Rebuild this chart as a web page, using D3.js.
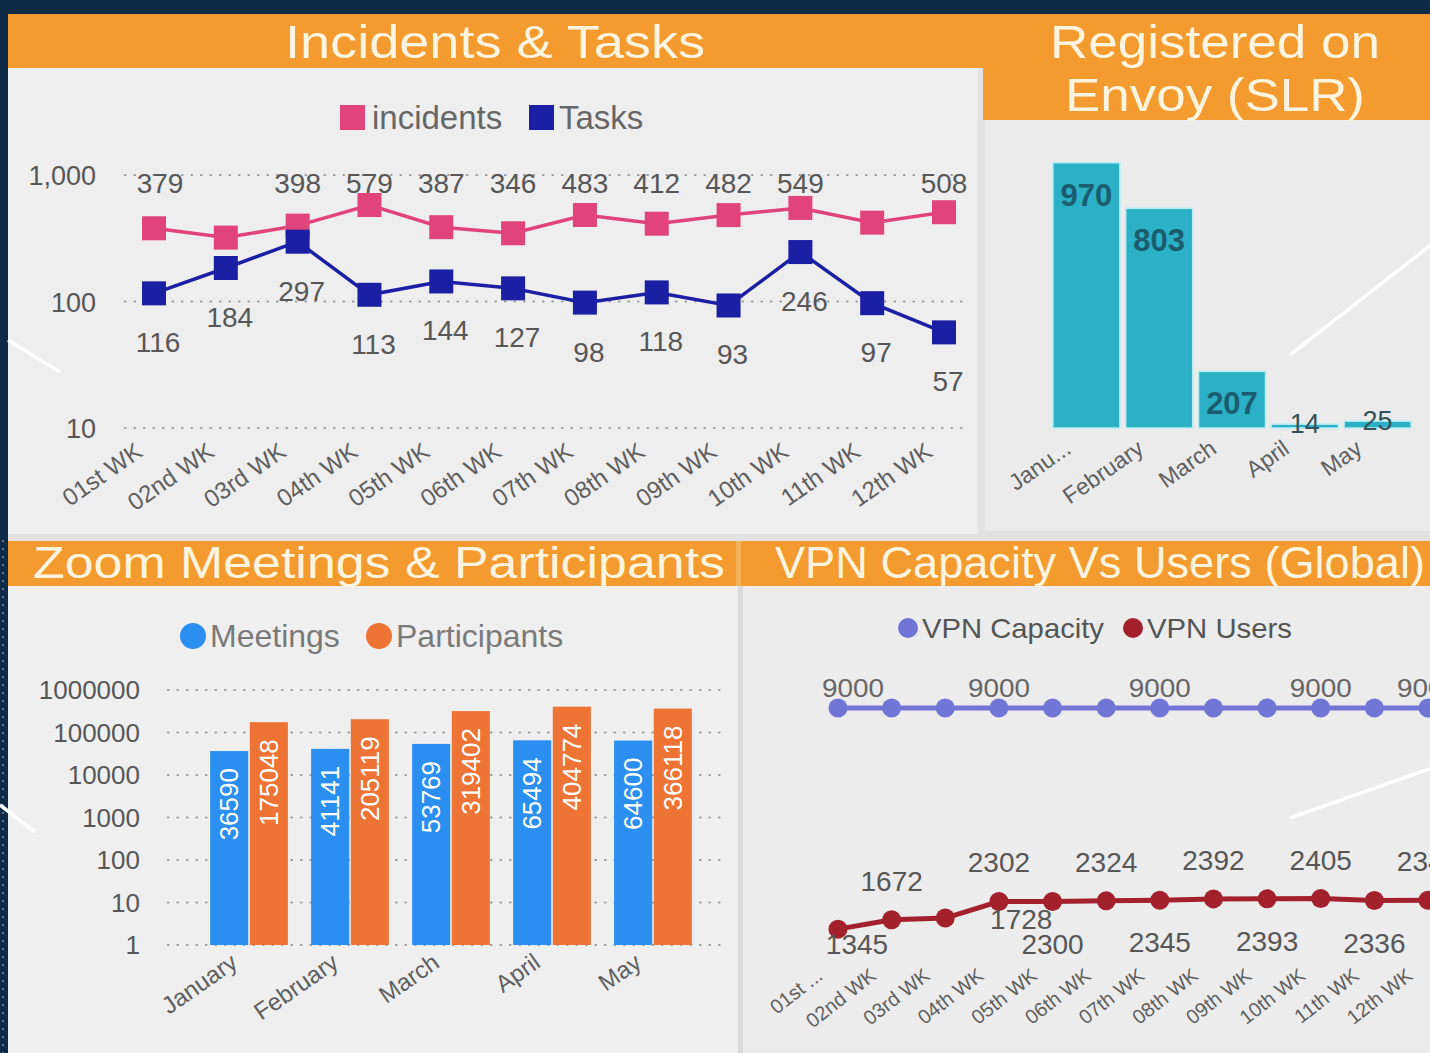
<!DOCTYPE html>
<html>
<head>
<meta charset="utf-8">
<script src="https://cdn.jsdelivr.net/npm/d3@7"></script>
<style>
  html, body { margin: 0; padding: 0; background: #0e2a47; }
  svg { display: block; }
  text { font-family: "Liberation Sans", Arial, sans-serif; }
  .legend { font-family: "Open Sans", "Noto Sans", sans-serif; }
</style>
</head>
<body>
<div id="chart-area"></div>
<script>
const weeks = ["01st WK", "02nd WK", "03rd WK", "04th WK", "05th WK", "06th WK",
  "07th WK", "08th WK", "09th WK", "10th WK", "11th WK", "12th WK"];
const incidents = [379, 320, 398, 579, 387, 346, 483, 412, 482, 549, 420, 508];
const tasks = [116, 184, 297, 113, 144, 127, 98, 118, 93, 246, 97, 57];
const incidentHiddenLabels = ["02nd WK", "11th WK"];
const logTicks1 = [10, 100, 1000];

const months = ["January", "February", "March", "April", "May"];
const envoyMonthLabels = ["Janu...", "February", "March", "April", "May"];
const envoy = [970, 803, 207, 14, 25];

const meetings = [36590, 41141, 53769, 65494, 64600];
const participants = [175048, 205119, 319402, 404774, 366118];
const zoomTicks = [1, 10, 100, 1000, 10000, 100000, 1000000];

const vpnWeeks = ["01st ...", "02nd WK", "03rd WK", "04th WK", "05th WK", "06th WK",
  "07th WK", "08th WK", "09th WK", "10th WK", "11th WK", "12th WK"];
const vpnCapacity = [9000, 9000, 9000, 9000, 9000, 9000, 9000, 9000, 9000, 9000, 9000, 9000];
const vpnUsers = [1345, 1672, 1728, 2302, 2300, 2324, 2345, 2392, 2393, 2405, 2336, 2346];
const vpnCapacityLabelled = ["01st ...", "04th WK", "07th WK", "10th WK", "12th WK"];

const WIDTH = 1430;
const HEIGHT = 1053;
const ORANGE = "#f39b2e";
const TITLE_FILL = "#fff4df";
const LABEL = "#575757";

const dotted = sel => sel
  .attr("stroke", "#9a9a9a")
  .attr("stroke-width", 2.2)
  .attr("stroke-linecap", "round")
  .attr("stroke-dasharray", "0.5,9");

const drawPanels = svg => {
  svg.append("rect").attr("width", WIDTH).attr("height", HEIGHT).attr("fill", "#0e2a47");
  // title bars
  svg.append("rect").attr("x", 8).attr("y", 14).attr("width", 1422).attr("height", 54).attr("fill", ORANGE);
  svg.append("rect").attr("x", 983).attr("y", 14).attr("width", 447).attr("height", 106).attr("fill", ORANGE);
  // panels
  svg.append("rect").attr("x", 8).attr("y", 68).attr("width", 975).attr("height", 473).attr("fill", "#e2e2e2");
  svg.append("rect").attr("x", 8).attr("y", 68).attr("width", 970).attr("height", 466).attr("fill", "#eeeeee");
  svg.append("rect").attr("x", 983).attr("y", 120).attr("width", 447).attr("height", 421).attr("fill", "#e2e2e2");
  svg.append("rect").attr("x", 985).attr("y", 120).attr("width", 445).attr("height", 411).attr("fill", "#ebebeb");
  svg.append("rect").attr("x", 8).attr("y", 541).attr("width", 1422).attr("height", 45).attr("fill", ORANGE);
  svg.append("rect").attr("x", 736).attr("y", 541).attr("width", 5).attr("height", 45).attr("fill", "#f2b25c");
  svg.append("rect").attr("x", 8).attr("y", 586).attr("width", 730).attr("height", 467).attr("fill", "#efefef");
  svg.append("rect").attr("x", 738).attr("y", 586).attr("width", 5).attr("height", 467).attr("fill", "#dadada");
  svg.append("rect").attr("x", 743).attr("y", 586).attr("width", 687).attr("height", 467).attr("fill", "#ececec");
  svg.append("line").attr("x1", 3).attr("x2", 3).attr("y1", 540).attr("y2", HEIGHT)
    .attr("stroke", "#5c7590").attr("stroke-width", 2).attr("stroke-dasharray", "2,6");

  const titles = [
    { text: "Incidents & Tasks", x: 495, y: 58, len: 420, size: 47 },
    { text: "Registered on", x: 1215, y: 58, len: 330, size: 47 },
    { text: "Envoy (SLR)", x: 1215, y: 111, len: 300, size: 47 },
    { text: "Zoom Meetings & Participants", x: 379, y: 578, len: 692, size: 44 },
    { text: "VPN Capacity Vs Users (Global)", x: 1100, y: 578, len: 650, size: 44 }
  ];
  svg.selectAll("text.title").data(titles).enter().append("text")
    .attr("class", "title")
    .attr("x", d => d.x).attr("y", d => d.y)
    .attr("text-anchor", "middle")
    .attr("font-size", d => d.size)
    .attr("textLength", d => d.len)
    .attr("lengthAdjust", "spacingAndGlyphs")
    .attr("fill", TITLE_FILL)
    .text(d => d.text);
};

const drawIncidents = svg => {
  const g = svg.append("g");
  const x = d3.scalePoint().domain(weeks).range([154, 944]);
  const y = d3.scaleLog().domain([10, 1000]).range([428, 175]);

  g.selectAll("line.grid").data(logTicks1).enter().append("line")
    .attr("x1", 125).attr("x2", 966)
    .attr("y1", d => y(d)).attr("y2", d => y(d))
    .call(dotted);
  g.selectAll("text.ytick").data(logTicks1).enter().append("text")
    .attr("x", 96).attr("y", d => y(d) + 10)
    .attr("text-anchor", "end").attr("font-size", 27).attr("fill", LABEL)
    .text(d3.format(","));

  g.selectAll("text.xtick").data(weeks).enter().append("text")
    .attr("transform", d => `translate(${x(d) - 10},455) rotate(-35)`)
    .attr("text-anchor", "end").attr("font-size", 24).attr("fill", "#5f5f5f")
    .text(d => d);

  const series = [
    { name: "incidents", values: incidents, color: "#e0447b" },
    { name: "Tasks", values: tasks, color: "#1b1fa3" }
  ];
  series.forEach(s => {
    const line = d3.line().x((v, i) => x(weeks[i])).y(v => y(v));
    g.append("path").attr("d", line(s.values))
      .attr("fill", "none").attr("stroke", s.color).attr("stroke-width", 3.5);
    g.selectAll(null).data(s.values).enter().append("rect")
      .attr("x", (v, i) => x(weeks[i]) - 12).attr("y", v => y(v) - 12)
      .attr("width", 24).attr("height", 24).attr("fill", s.color);
  });

  const incLabels = incidents
    .map((v, i) => ({ week: weeks[i], value: v }))
    .filter(d => !incidentHiddenLabels.includes(d.week));
  g.selectAll("text.inc").data(incLabels).enter().append("text")
    .attr("x", d => x(d.week) + (d.week === weeks[0] ? 6 : 0)).attr("y", 193)
    .attr("text-anchor", "middle").attr("font-size", 28).attr("fill", LABEL)
    .text(d => d.value);
  g.selectAll("text.task").data(tasks).enter().append("text")
    .attr("x", (v, i) => x(weeks[i]) + 4).attr("y", v => y(v) + 59)
    .attr("text-anchor", "middle").attr("font-size", 28).attr("fill", LABEL)
    .text(d => d);

  const legend = g.append("g").attr("class", "legend");
  legend.append("rect").attr("x", 340).attr("y", 105).attr("width", 25).attr("height", 25).attr("fill", series[0].color);
  legend.append("text").attr("x", 372).attr("y", 129).attr("font-size", 33).attr("fill", "#666").text("incidents");
  legend.append("rect").attr("x", 529).attr("y", 105).attr("width", 25).attr("height", 25).attr("fill", series[1].color);
  legend.append("text").attr("x", 559).attr("y", 129).attr("font-size", 33).attr("fill", "#666").text("Tasks");
};

const drawEnvoy = svg => {
  const g = svg.append("g");
  const x = d3.scaleBand().domain(months).range([1050, 1414]).paddingInner(0.08).paddingOuter(0.04);
  const y = d3.scaleLinear().domain([0, 1000]).range([428, 154.5]);
  const tall = v => y(0) - y(v) > 40;

  g.selectAll("rect").data(envoy).enter().append("rect")
    .attr("x", (v, i) => x(months[i]))
    .attr("y", v => y(v))
    .attr("width", x.bandwidth())
    .attr("height", v => Math.max(3, y(0) - y(v)))
    .attr("fill", "#2bb0c5")
    .attr("stroke", "#b7eef4").attr("stroke-width", 1.5);

  g.selectAll("text.val").data(envoy).enter().append("text")
    .attr("x", (v, i) => x(months[i]) + x.bandwidth() / 2)
    .attr("y", v => (tall(v) ? y(v) + 43 : y(v) + 9))
    .attr("text-anchor", "middle")
    .attr("font-size", v => (tall(v) ? 31 : 27))
    .attr("font-weight", v => (tall(v) ? "bold" : "normal"))
    .attr("fill", v => (tall(v) ? "#1b5c70" : "#35525a"))
    .text(d => d);

  g.selectAll("text.xtick").data(envoyMonthLabels).enter().append("text")
    .attr("transform", (d, i) => `translate(${x(months[i]) + x.bandwidth() / 2 - 14},452) rotate(-35)`)
    .attr("text-anchor", "end").attr("font-size", 23).attr("fill", "#5f5f5f")
    .text(d => d);
};

const drawZoom = svg => {
  const g = svg.append("g");
  const y = d3.scaleLog().domain([1, 1000000]).range([945, 690]);
  const x0 = d3.scaleBand().domain(months).range([195, 707]).paddingInner(0.23).paddingOuter(0.15);
  const keys = ["Meetings", "Participants"];
  const x1 = d3.scaleBand().domain(keys).range([0, x0.bandwidth()]).paddingInner(0.04);
  const colors = { Meetings: "#2a8ff0", Participants: "#ee7436" };

  g.selectAll("line.grid").data(zoomTicks).enter().append("line")
    .attr("x1", 168).attr("x2", 726)
    .attr("y1", d => y(d)).attr("y2", d => y(d))
    .call(dotted);
  g.selectAll("text.ytick").data(zoomTicks).enter().append("text")
    .attr("x", 140).attr("y", d => y(d) + 9)
    .attr("text-anchor", "end").attr("font-size", 26).attr("fill", LABEL)
    .text(d3.format("d"));

  const rows = months.map((m, i) => ({ month: m, Meetings: meetings[i], Participants: participants[i] }));
  const groups = g.selectAll("g.grp").data(rows).enter().append("g")
    .attr("transform", d => `translate(${x0(d.month)},0)`);
  const cells = groups.selectAll("g").data(d => keys.map(k => ({ key: k, value: d[k] }))).enter();
  cells.append("rect")
    .attr("x", d => x1(d.key)).attr("y", d => y(d.value))
    .attr("width", x1.bandwidth()).attr("height", d => y(1) - y(d.value))
    .attr("fill", d => colors[d.key]);
  cells.append("text")
    .attr("transform", d => `translate(${x1(d.key) + x1.bandwidth() / 2 + 9},${y(d.value) + 17}) rotate(-90)`)
    .attr("text-anchor", "end").attr("font-size", 26).attr("fill", "#ffffff")
    .text(d => d.value);

  g.selectAll("text.xtick").data(months).enter().append("text")
    .attr("transform", d => `translate(${x0(d) + x0.bandwidth() / 2 - 10},966) rotate(-35)`)
    .attr("text-anchor", "end").attr("font-size", 24).attr("fill", "#5f5f5f")
    .text(d => d);

  const legend = g.append("g").attr("class", "legend");
  legend.append("circle").attr("cx", 193).attr("cy", 636).attr("r", 13).attr("fill", colors.Meetings);
  legend.append("text").attr("x", 210).attr("y", 647).attr("font-size", 32).attr("fill", "#7a7a7a").text("Meetings");
  legend.append("circle").attr("cx", 379).attr("cy", 636).attr("r", 13).attr("fill", colors.Participants);
  legend.append("text").attr("x", 396).attr("y", 647).attr("font-size", 32).attr("fill", "#7a7a7a").text("Participants");
};

const drawVpn = svg => {
  const g = svg.append("g");
  const x = d3.scalePoint().domain(vpnWeeks).range([838, 1428]);
  const y = d3.scaleLinear().domain([0, 9000]).range([968, 708]);
  const capColor = "#7176d6";
  const userColor = "#a3202d";
  const line = d3.line().x((v, i) => x(vpnWeeks[i])).y(v => y(v));

  [[vpnCapacity, capColor], [vpnUsers, userColor]].forEach(([vals, color]) => {
    g.append("path").attr("d", line(vals)).attr("fill", "none")
      .attr("stroke", color).attr("stroke-width", 5);
    g.selectAll(null).data(vals).enter().append("circle")
      .attr("cx", (v, i) => x(vpnWeeks[i])).attr("cy", v => y(v)).attr("r", 9.5)
      .attr("fill", color);
  });

  const capLabels = vpnCapacity
    .map((v, i) => ({ week: vpnWeeks[i], value: v }))
    .filter(d => vpnCapacityLabelled.includes(d.week));
  g.selectAll("text.cap").data(capLabels).enter().append("text")
    .attr("x", d => x(d.week) + (d.week === vpnWeeks[0] ? 15 : 0)).attr("y", d => y(d.value) - 11)
    .attr("text-anchor", "middle").attr("font-size", 26).attr("fill", "#666")
    .attr("textLength", 62).attr("lengthAdjust", "spacingAndGlyphs")
    .text(d => d.value);

  g.selectAll("text.usr").data(vpnUsers).enter().append("text")
    .attr("x", (v, i) => x(vpnWeeks[i]) + (i === 0 ? 19 : i === 2 ? 76 : 0))
    .attr("y", (v, i) => (i % 2 ? y(v) - 29 : Math.min(y(v) + 52, i === 2 ? 929 : 954)))
    .attr("text-anchor", "middle").attr("font-size", 28).attr("fill", LABEL)
    .text(d => d);

  g.selectAll("text.xtick").data(vpnWeeks).enter().append("text")
    .attr("transform", d => `translate(${x(d) - 14},978) rotate(-38)`)
    .attr("text-anchor", "end").attr("font-size", 20).attr("fill", "#5f5f5f")
    .text(d => d);

  const legend = g.append("g").attr("class", "legend");
  legend.append("circle").attr("cx", 908).attr("cy", 628).attr("r", 10).attr("fill", capColor);
  legend.append("text").attr("x", 922).attr("y", 638).attr("font-size", 28).attr("fill", "#555")
    .attr("textLength", 182).attr("lengthAdjust", "spacingAndGlyphs").text("VPN Capacity");
  legend.append("circle").attr("cx", 1133).attr("cy", 628).attr("r", 10).attr("fill", userColor);
  legend.append("text").attr("x", 1147).attr("y", 638).attr("font-size", 28).attr("fill", "#555")
    .attr("textLength", 145).attr("lengthAdjust", "spacingAndGlyphs").text("VPN Users");
};

const drawPointers = svg => {
  const pointers = [[8, 340, 60, 372], [0, 805, 35, 832], [1290, 355, 1432, 244], [1290, 818, 1432, 768]];
  svg.selectAll("line.ptr").data(pointers).enter().append("line")
    .attr("x1", d => d[0]).attr("y1", d => d[1]).attr("x2", d => d[2]).attr("y2", d => d[3])
    .attr("stroke", "#ffffff").attr("stroke-width", 3.5);
};

const main = () => {
  const svg = d3.select("#chart-area").append("svg")
    .attr("width", WIDTH).attr("height", HEIGHT);
  drawPanels(svg);
  drawIncidents(svg);
  drawEnvoy(svg);
  drawZoom(svg);
  drawVpn(svg);
  drawPointers(svg);
};
window.onload = main;
</script>
</body>
</html>
